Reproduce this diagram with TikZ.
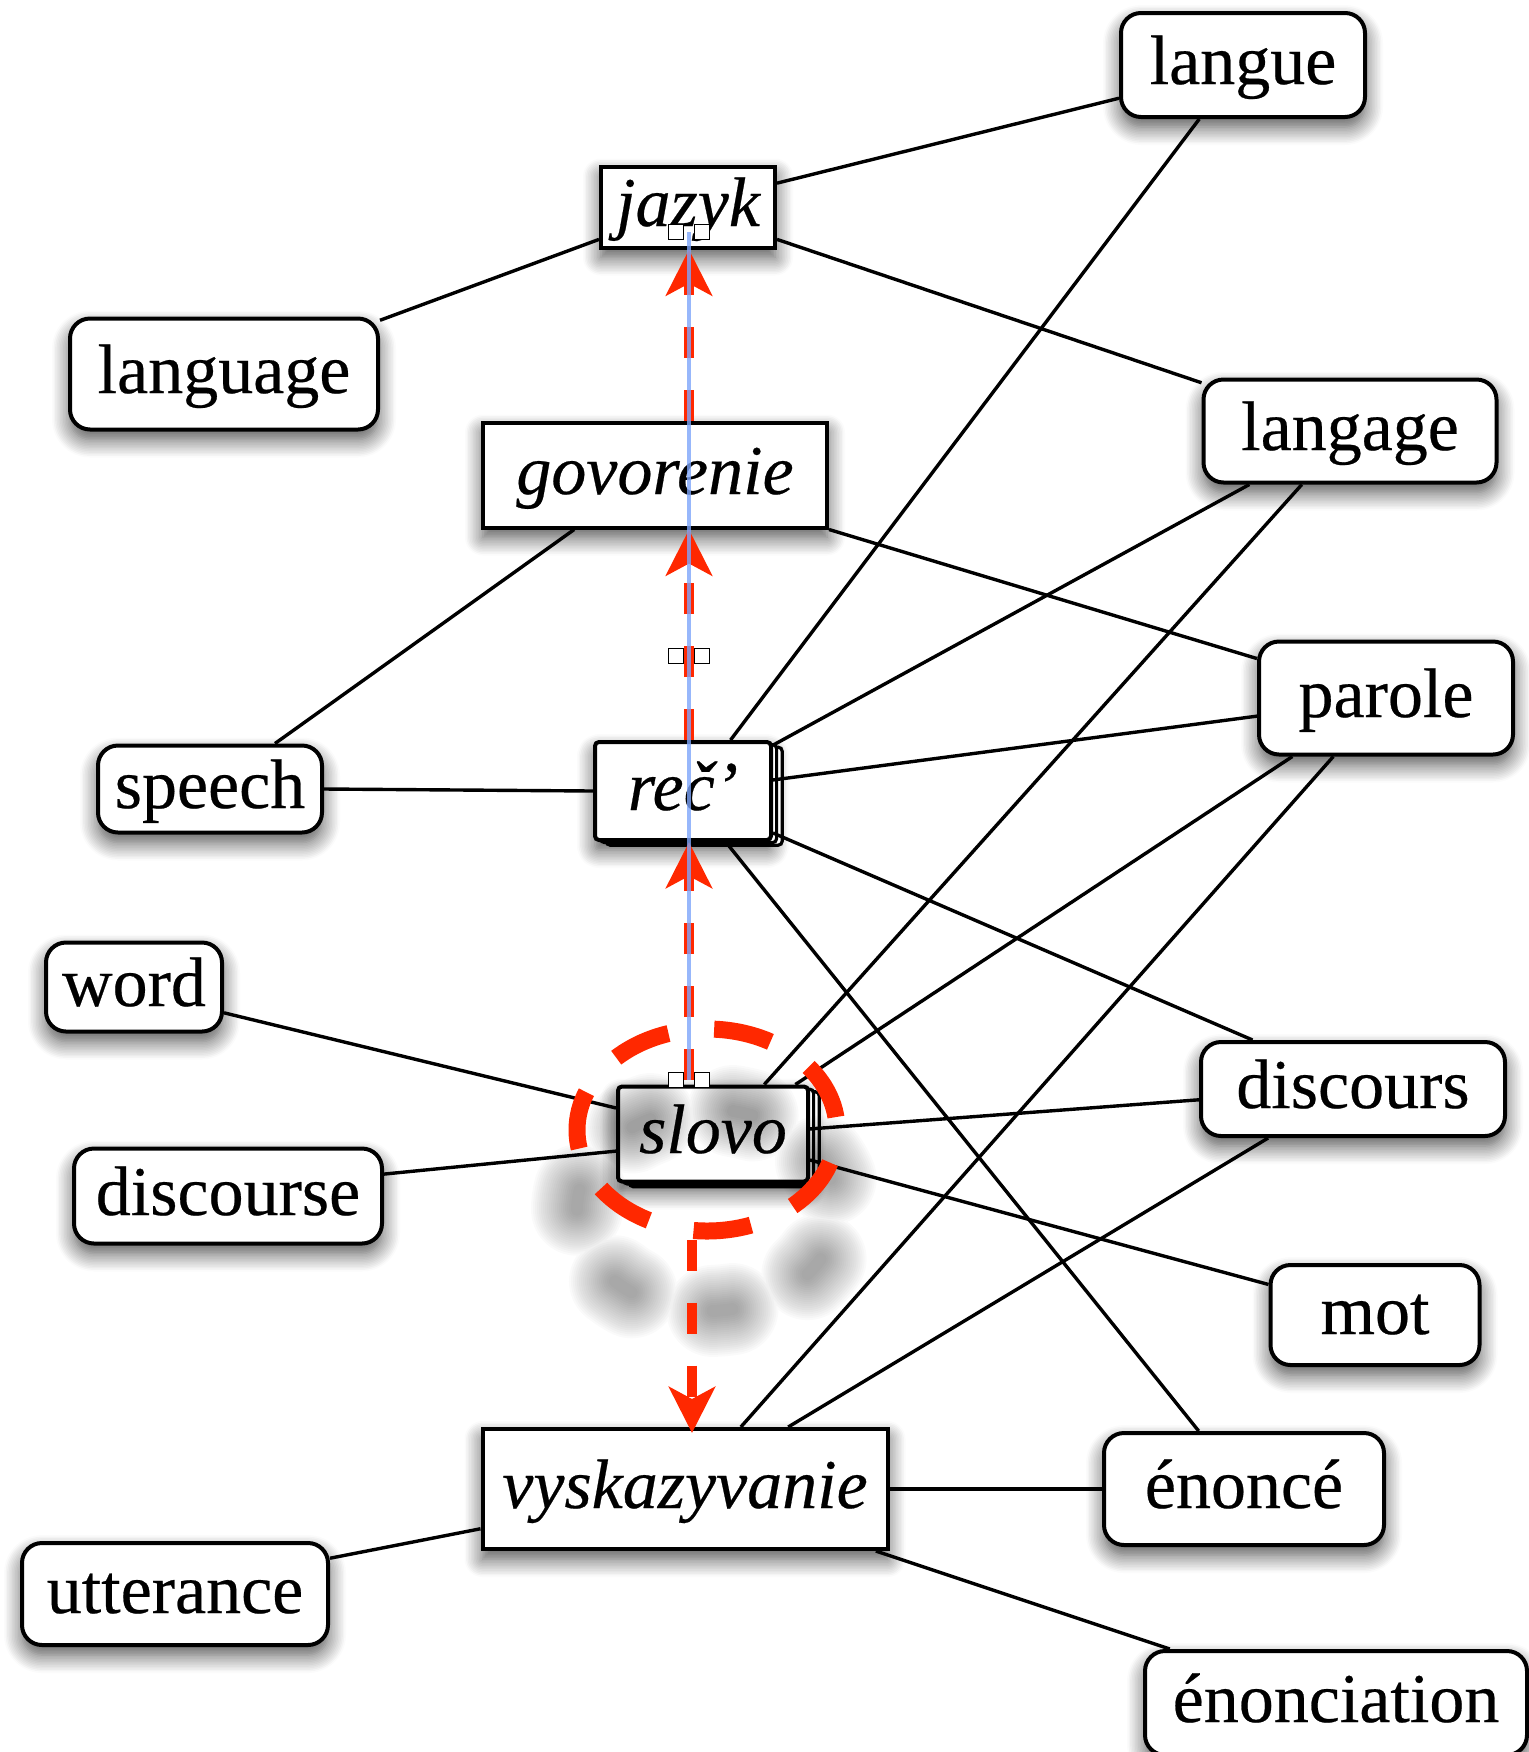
\documentclass[tikz,border=0pt]{standalone}
\usepackage{fontspec}
\setmainfont{Liberation Serif}[FakeBold=0.35]
\usetikzlibrary{shadows,shadows.blur,arrows.meta,shapes.geometric,calc}
\definecolor{redline}{RGB}{255,40,0}
\definecolor{selblue}{RGB}{125,165,250}
\tikzset{
  box/.style={draw=black, line width=2pt, fill=white, inner sep=0pt,
    font=\fontsize{35}{40}\selectfont, text height=26pt, text depth=7pt,
    blur shadow={shadow xshift=0pt, shadow yshift=-5pt, shadow blur radius=9pt, shadow opacity=70, shadow blur steps=12}},
  term/.style={box, rounded corners=10pt},
  ru/.style={box, font=\fontsize{35}{40}\selectfont\itshape},
  stack/.style={ru, rounded corners=2pt,
    double copy shadow={shadow xshift=2.8pt, shadow yshift=-1.3pt, draw=black, line width=1.6pt}},
  link/.style={line width=1.7pt, draw=black},
  redarrow/.style={draw=redline, line width=5pt, dash pattern=on 15.5pt off 16pt,
    -{Stealth[length=23pt, width=23pt, inset=6pt]}},
  handle/.style={draw=black, fill=white, line width=0.7pt, minimum size=7.5pt, inner sep=0pt},
  ringstyle/.style={ellipse, minimum width=130pt, minimum height=101pt, inner sep=0pt,
    dash pattern=on 29pt off 23pt, dash phase=45.5pt},
  blobstyle/.style={ellipse, minimum width=130pt, minimum height=101pt, inner sep=0pt,
    dash pattern=on 10pt off 42pt, dash phase=36pt},
}
\begin{document}
\begin{tikzpicture}[x=0.5pt,y=-0.5pt]
\useasboundingbox (0,0) rectangle (1528,1752);

% nodes
\node[term, minimum width=122pt, minimum height=52pt] (langue) at (1243,65) {langue};
\node[ru, minimum width=87pt, minimum height=40.5pt] (jazyk) at (688,207) {jazyk};
\node[term, minimum width=154pt, minimum height=55.5pt] (language) at (224,374) {language};
\node[term, minimum width=146.5pt, minimum height=51.5pt] (langage) at (1350,431) {langage};
\node[ru, minimum width=172pt, minimum height=52.5pt] (govorenie) at (655,475) {govorenie};
\node[term, minimum width=127pt, minimum height=56.5pt] (parole) at (1386,698) {parole};
\node[term, minimum width=112pt, minimum height=43.5pt] (speech) at (210,789) {speech};
\node[stack, minimum width=88pt, minimum height=49pt] (rec) at (683,791) {reč’};
\node[term, minimum width=88pt, minimum height=44.5pt] (word) at (134,987) {word};
\node[term, minimum width=152pt, minimum height=47pt] (discours) at (1353,1089) {discours};
\node[stack, minimum width=95pt, minimum height=47.5pt] (slovo) at (713,1134) {slovo};
\node[term, minimum width=154pt, minimum height=47.5pt] (discourse) at (228,1196) {discourse};
\node[term, minimum width=104.5pt, minimum height=50pt] (mot) at (1375,1315) {mot};
\node[ru, minimum width=202.5pt, minimum height=60pt] (vysk) at (685,1489) {vyskazyvanie};
\node[term, minimum width=140pt, minimum height=56pt] (enonce) at (1244,1489) {énoncé};
\node[term, minimum width=153pt, minimum height=51pt] (utterance) at (175,1594) {utterance};
\node[term, minimum width=191pt, minimum height=52pt] (enonciation) at (1336,1703) {énonciation};

% connectors
\draw[link] (jazyk.15) -- (langue.195);
\draw[link] (jazyk.200) -- (language.19);
\draw[link] (jazyk.340) -- (langage.162);
\draw[link] (govorenie.214) -- (speech.35);
\draw[link] (govorenie.south east) -- (parole.163);
\draw[link] (rec.47) -- (langue.231);
\draw[link] (rec.27) -- (langage.208);
\draw[link] (speech.east) -- (rec.west);
\draw[link] (rec.7) -- (parole.188);
\draw[link] (rec.335) -- (discours.154);
\draw[link] (rec.310) -- (enonce.128);
\draw[link] (slovo.44) -- (langage.228);
\draw[link] (slovo.31) -- (parole.212);
\draw[link] (slovo.165) -- (word.344);
\draw[link] (slovo.190) -- (discourse.8);
\draw[link] (slovo.3) -- (discours.184);
\draw[link] (slovo.345) -- (mot.164);
\draw[link] (vysk.48) -- (parole.228);
\draw[link] (vysk.31) -- (discours.210);
\draw[link] (vysk.east) -- (enonce.west);
\draw[link] (vysk.191) -- (utterance.13);
\draw[link] (vysk.342) -- (enonciation.162);

% blurred shadow of the dashed ring
\foreach \w in {6,8,...,46} {
  \node[blobstyle, draw=black, draw opacity=0.018, line width=\w pt, line cap=round] at (707,1210) {};
}

% axis coordinates
\coordinate (ax) at (689,0);
\coordinate (ax2) at (692,0);
\coordinate (hs) at (689,1080);
\coordinate (hm) at (689,656);
\coordinate (he) at (689,232);

% red dashed arrows
\draw[redarrow] (hs) -- (rec.south -| ax);
\draw[redarrow] (rec.north -| ax) -- (govorenie.south -| ax);
\draw[redarrow] (govorenie.north -| ax) -- (jazyk.south -| ax);

% dashed ring
\node[ringstyle, draw=redline, line width=8.5pt] (ring) at (707,1130) {};
\draw[redarrow, shorten >=-3pt] (ring.south -| ax2) -- (vysk.north -| ax2);

% selection line and handles
\draw[selblue, line width=2.2pt, opacity=0.8] (hs) -- (he);
\node[handle] (hs1) at ($(hs)+(-13,0)$) {};
\node[handle] (hs2) at ($(hs)+(13,0)$) {};
\node[handle] (hm1) at ($(hm)+(-13,0)$) {};
\node[handle] (hm2) at ($(hm)+(13,0)$) {};
\node[handle] (he1) at ($(he)+(-13,0)$) {};
\node[handle] (he2) at ($(he)+(13,0)$) {};
\end{tikzpicture}
\end{document}
